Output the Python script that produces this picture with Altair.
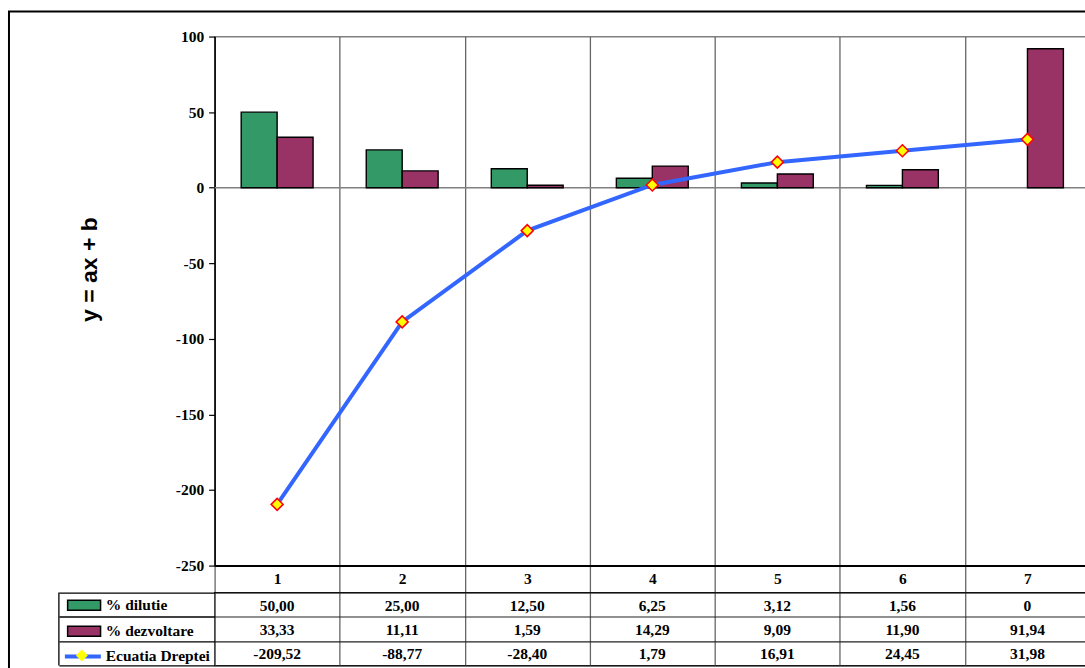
import altair as alt
import pandas as pd

# ---- data ---------------------------------------------------------------
categories = ["1", "2", "3", "4", "5", "6", "7"]
dilutie = [50.00, 25.00, 12.50, 6.25, 3.12, 1.56, 0]
dezvoltare = [33.33, 11.11, 1.59, 14.29, 9.09, 11.90, 91.94]
ecuatia = [-209.52, -88.77, -28.40, 1.79, 16.91, 24.45, 31.98]
series_names = ["% dilutie", "% dezvoltare", "Ecuatia Dreptei"]
y_ticks = [100, 50, 0, -50, -100, -150, -200, -250]


def fmt(v):
    """Romanian style number: comma as decimal separator, plain 0 for zero."""
    return "0" if v == 0 else f"{v:.2f}".replace(".", ",")


# ---- styling ------------------------------------------------------------
GREEN, MAROON, BLUE = "#339966", "#993366", "#3366FF"
YELLOW, RED = "#FFFF00", "#FF0000"
GRID = "#666666"
SERIF, SANS = "Liberation Serif", "Liberation Sans"
FS = 15.5                # font size of ticks and table text
W, H = 877, 530          # plot area
HEADER = 27              # category row under the plot
TABLE_H = 73             # three data-table rows
LABEL_COL = 156          # width of the data-table legend column

bars_df = pd.DataFrame({
    "category": categories * 2,
    "series": [series_names[0]] * 7 + [series_names[1]] * 7,
    "value": dilutie + dezvoltare,
})
line_df = pd.DataFrame({
    "category": categories,
    "series": [series_names[2]] * 7,
    "marker": ["marker"] * 7,
    "value": ecuatia,
})
table_df = pd.DataFrame({
    "category": categories * 3,
    "row": [s for s in series_names for _ in categories],
    "text": [fmt(v) for v in dilutie + dezvoltare + ecuatia],
})

cat_scale = alt.Scale(domain=categories, paddingInner=0, paddingOuter=0)
y_scale = alt.Scale(domain=[-250, 100], nice=False, zero=False)

x_plot = alt.X(
    "category:N", sort=categories, scale=cat_scale, title=None,
    axis=alt.Axis(
        orient="bottom", tickBand="extent", grid=True, gridColor=GRID, gridWidth=1.3,
        ticks=True, tickSize=HEADER, tickColor=GRID, tickWidth=1.3,
        domainColor="black", domainWidth=2, labelAngle=0,
        labelPadding=13 - HEADER, labelBaseline="middle",
        labelFont=SERIF, labelFontWeight="bold", labelFontSize=FS, labelColor="black",
    ),
)
y_plot = alt.Y(
    "value:Q", scale=y_scale, stack=False,
    axis=alt.Axis(
        values=y_ticks, grid=False, tickSize=6, tickColor="black", tickWidth=1.2,
        domainColor="black", domainWidth=1.5, labelPadding=5,
        labelExpr="'' + datum.value",
        labelFont=SERIF, labelFontWeight="bold", labelFontSize=FS, labelColor="black",
        title="y = ax + b", titleFont=SANS, titleFontSize=23, titleFontWeight="bold",
        titleColor="black", titleAngle=270, titleX=-125, titleY=233,
        titleAlign="center", titleBaseline="middle",
    ),
)

# chart-area border (left and top edges show, the rest runs off the page)
frame = alt.Chart(alt.Data(values=[{}])).mark_rect(
    fillOpacity=0, stroke="black", strokeWidth=2
).encode(
    x=alt.value(-206), x2=alt.value(W + 10),
    y=alt.value(-25), y2=alt.value(H + HEADER + TABLE_H + 10),
)

zero_rule = alt.Chart(alt.Data(values=[{}])).mark_rule(
    color="#808080", strokeWidth=1.5
).encode(y=alt.datum(0, scale=y_scale))

bars = alt.Chart(bars_df).transform_filter(
    "datum.value != 0"
).mark_bar(
    stroke="black", strokeWidth=1.4, opacity=1
).encode(
    x=x_plot,
    xOffset=alt.XOffset("series:N", sort=series_names[:2],
                        scale=alt.Scale(domain=series_names[:2], paddingInner=0, paddingOuter=0.74)),
    y=y_plot,
    fill=alt.Fill("series:N", scale=alt.Scale(domain=series_names[:2], range=[GREEN, MAROON]),
                  legend=alt.Legend(
                      title=None, orient="none", legendX=-138.5, legendY=562, direction="vertical",
                      padding=0, rowPadding=8, labelOffset=14,
                      symbolType="M-3.3,-1H3.3V1H-3.3Z", symbolSize=100,
                      symbolStrokeColor="black", symbolStrokeWidth=1.5, symbolOpacity=1,
                      labelFont=SERIF, labelFontWeight="bold", labelFontSize=FS, labelColor="black",
                  )),
)

line = alt.Chart(line_df).mark_line(strokeWidth=4).encode(
    x=x_plot, y=y_plot,
    stroke=alt.Stroke("series:N", scale=alt.Scale(domain=series_names[2:], range=[BLUE]),
                      legend=alt.Legend(
                          title=None, orient="none", legendX=-152, legendY=601, padding=0,
                          symbolType="stroke", symbolSize=1296, symbolStrokeWidth=4,
                          labelOffset=3, labelFont=SERIF, labelFontWeight="bold",
                          labelFontSize=FS, labelColor="black",
                      )),
)

points = alt.Chart(line_df).mark_point(
    filled=True, fill=YELLOW, stroke=RED, strokeWidth=1.5, size=144, opacity=1
).encode(
    x=x_plot, y=y_plot,
    shape=alt.Shape("marker:N", scale=alt.Scale(domain=["marker"], range=["diamond"]),
                    legend=alt.Legend(
                        title=None, orient="none", legendX=-140, legendY=613, padding=0,
                        labelExpr="''", symbolSize=144, symbolFillColor=YELLOW,
                        symbolStrokeColor=RED, symbolStrokeWidth=1.5, symbolOpacity=1, zindex=2,
                    )),
)

plot = alt.layer(frame, zero_rule, bars, line, points).properties(
    width=W, height=H,
    view=alt.ViewBackground(stroke="#808080", strokeWidth=1.3),
)

# ---- data table under the plot --------------------------------------------
label_border = alt.Chart(alt.Data(values=[{}])).mark_rule(
    color="black", strokeWidth=1.3
).encode(x=alt.value(-LABEL_COL), y=alt.value(0), y2=alt.value(TABLE_H))

table_text = alt.Chart(table_df).mark_text(
    font=SERIF, fontWeight="bold", fontSize=FS, color="black", baseline="middle", dy=1
).encode(
    x=alt.X("category:N", sort=categories, scale=cat_scale, title=None,
            axis=alt.Axis(tickBand="extent", grid=True, gridColor=GRID, gridWidth=1.3,
                          ticks=False, labels=False, domain=False)),
    y=alt.Y("row:N", sort=series_names, title=None,
            scale=alt.Scale(domain=series_names, paddingInner=0, paddingOuter=0),
            axis=alt.Axis(tickBand="extent", grid=True, gridColor="#222222", gridWidth=1.2,
                          ticks=True, tickSize=LABEL_COL, tickColor="black", tickWidth=1.3,
                          labels=False, domain=False)),
    text="text:N",
)

table = alt.layer(label_border, table_text).properties(
    width=W, height=TABLE_H,
    view=alt.ViewBackground(stroke="black", strokeWidth=1.3),
)

chart = alt.vconcat(plot, table, spacing=HEADER, bounds="flush").resolve_scale(
    fill="independent", stroke="independent", shape="independent"
).resolve_legend(
    fill="independent", stroke="independent", shape="independent"
).properties(
    padding={"left": 7, "top": 9, "right": -17, "bottom": -8},
).configure(background="white")

chart.save("out.html", embed_options={"renderer": "svg", "actions": False})
